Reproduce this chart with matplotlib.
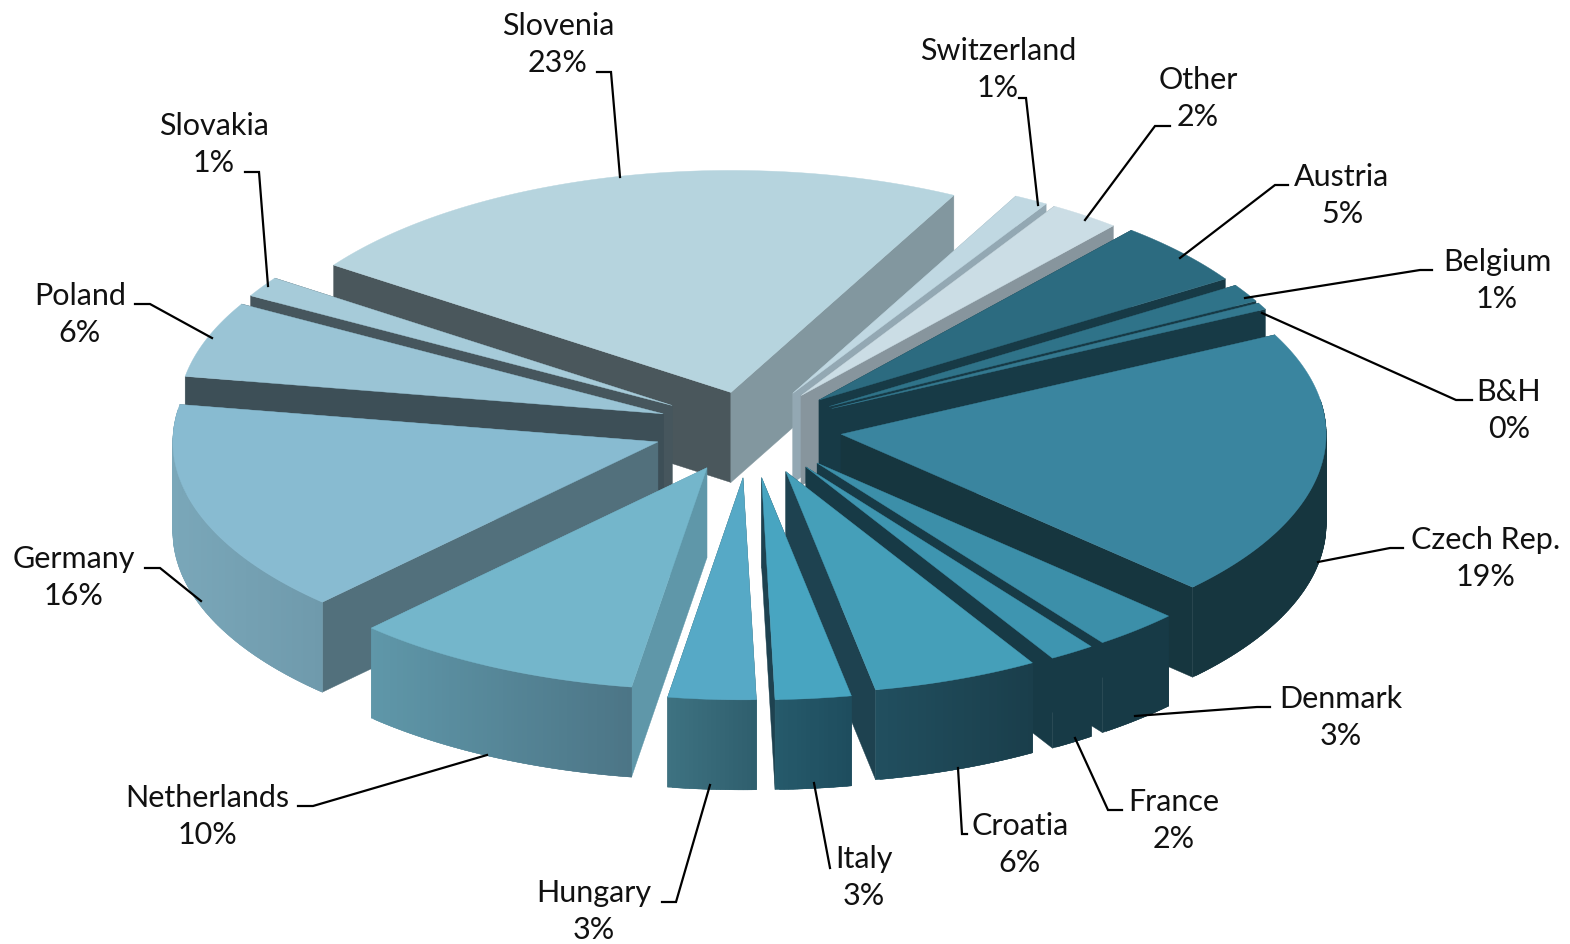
"""Exploded 3D pie of share by country, drawn as projected polygons."""

import matplotlib.pyplot as plt
import numpy as np
from matplotlib.colors import to_rgb
from matplotlib.patches import Polygon

W, H = 1570, 944

countries = ["Slovenia", "Switzerland", "Other", "Austria", "Belgium", "B&H",
             "Czech Rep.", "Denmark", "France", "Croatia", "Italy", "Hungary",
             "Netherlands", "Germany", "Poland", "Slovakia"]
shares = [22.86, 1.14, 2.39, 4.67, 1.31, 0.49, 19.47, 2.89, 1.52, 5.52, 2.52, 2.92,
          9.67, 15.52, 5.53, 1.49]

# ── Styling per slice ─────────────────────────────────────────────────────────
top_colors = ["#b6d4de", "#c0d8e2", "#cbdde5", "#2c6b80", "#2f7389", "#33788f",
              "#3a859f", "#3c8fa9", "#3e95b0", "#459fb9", "#48a5c1", "#56a9c6",
              "#74b6cb", "#88bbd1", "#9ac4d5", "#a6cbd9"]
rim_left = ["#7d949c", "#93a8b3", "#87959d", "#173a46", "#173a46", "#173a46",
            "#16363f", "#173a46", "#173a46", "#214f5f", "#265a6b", "#3e7282",
            "#5f97a9", "#7aa7b9", "#7aa7b9", "#7aa7b9"]
rim_right = ["#7d949c", "#93a8b3", "#87959d", "#173a46", "#173a46", "#173a46",
             "#16363f", "#173a46", "#173a46", "#1a3e4b", "#1e4d5e", "#2f5f6d",
             "#4c7586", "#6f9aac", "#7aa7b9", "#7aa7b9"]
wall_start = ["#4a575c", "#93a8b3", "#87959d", "#173a46", "#173a46", "#173a46",
              "#16363f", "#173a46", "#173a46", "#1e4250", "#1e4250", "#2f5f6d",
              "#5f97a9", "#52707c", "#3d4f57", "#46565d"]
wall_end = ["#82979f", "#93a8b3", "#87959d", "#173a46", "#173a46", "#173a46",
            "#16363f", "#173a46", "#173a46", "#1e4250", "#1e4250", "#2f5f6d",
            "#5f97a9", "#52707c", "#3d4f57", "#46565d"]
explode = [0.165, 0.18, 0.18, 0.19, 0.19, 0.19, 0.19, 0.21, 0.21, 0.21, 0.225,
           0.225, 0.2, 0.2, 0.19, 0.19]

# ── Layout in pixels ──────────────────────────────────────────────────────────
CX, CY = 750, 428
RX, RY = 485, 222
DEPTH = 90
START_DEG = -55.0

label_pos = [(558, 26), (998, 51), (1198, 80), (1342, 177), (1497, 262),
             (1509, 392), (1486, 540), (1341, 699), (1174, 802), (1020, 826),
             (864, 859), (594, 893), (207, 798), (74, 559), (80, 296), (214, 126)]
leaders = [
    [(597, 72), (611, 72), (620, 177)],
    [(1019, 98), (1026, 98), (1038, 205)],
    [(1170, 126), (1155, 126), (1085, 220)],
    [(1288, 185), (1275, 185), (1180, 258)],
    [(1432, 270), (1420, 270), (1245, 298)],
    [(1472, 400), (1456, 400), (1262, 313)],
    [(1403, 548), (1390, 548), (1318, 562)],
    [(1270, 707), (1257, 707), (1135, 716)],
    [(1122, 810), (1108, 810), (1075, 738)],
    [(967, 834), (962, 834), (958, 768)],
    [(830, 868), (814, 783)],
    [(662, 902), (676, 902), (710, 785)],
    [(298, 806), (313, 806), (487, 755)],
    [(145, 568), (160, 568), (201, 601)],
    [(135, 304), (150, 304), (212, 338)],
    [(245, 172), (259, 172), (268, 286)],
]


def project(theta, radius, offset):
    """Screen position of a disk point; theta runs clockwise from the back."""
    x = CX + RX * (radius * np.sin(theta) + offset[0])
    y = CY - RY * (radius * np.cos(theta) + offset[1])
    return x, y


fig = plt.figure(figsize=(W / 100, H / 100), dpi=100)
ax = fig.add_axes([0, 0, 1, 1])
ax.set_xlim(0, W)
ax.set_ylim(H, 0)
ax.axis("off")

fractions = np.array(shares) / np.sum(shares)
edges = np.deg2rad(START_DEG) + 2 * np.pi * np.concatenate([[0], np.cumsum(fractions)])


def fill(points, color, z):
    ax.add_patch(Polygon(points, closed=True, facecolor=color, edgecolor=color,
                         linewidth=0.3, zorder=z))


# Paint back slices first so the front ones overlap them
mids = (edges[:-1] + edges[1:]) / 2
order = np.argsort(-np.cos(mids))
for z, i in enumerate(order):
    t0, t1 = edges[i], edges[i + 1]
    mid = mids[i]
    off = (explode[i] * np.sin(mid), explode[i] * np.cos(mid))
    base = 10 + z * 10
    ts = np.linspace(t0, t1, max(int(np.degrees(t1 - t0) * 2), 4))
    apex = project(0, 0, off)

    # Radial cut faces
    for t, col in ((t0, wall_start[i]), (t1, wall_end[i])):
        rim = project(t, 1, off)
        fill([apex, rim, (rim[0], rim[1] + DEPTH), (apex[0], apex[1] + DEPTH)], col, base)

    # Outer wall, shaded left to right; each band runs under its neighbour to hide seams
    xs, ys = project(ts, 1, off)
    span = max(xs.max() - xs.min(), 1)
    c0, c1 = np.array(to_rgb(rim_left[i])), np.array(to_rgb(rim_right[i]))
    bands = [k for k in range(len(ts) - 1) if np.cos((ts[k] + ts[k + 1]) / 2) <= 0.15]
    bands.sort(key=lambda k: xs[k])
    for k in bands:
        f = ((xs[k] + xs[k + 1]) / 2 - xs.min()) / span
        col = tuple(c0 + (c1 - c0) * f)
        ahead = min(k + 2, len(ts) - 1) if xs[-1] > xs[0] else k
        behind = k if xs[-1] > xs[0] else max(k - 1, 0)
        seg_x = xs[behind:ahead + 1] if xs[-1] > xs[0] else xs[behind:k + 2]
        seg_y = ys[behind:ahead + 1] if xs[-1] > xs[0] else ys[behind:k + 2]
        fill(list(zip(seg_x, seg_y)) + list(zip(seg_x[::-1], seg_y[::-1] + DEPTH)),
             col, base + 1)

    # Top face
    fill([apex] + list(zip(xs, ys)), top_colors[i], base + 2)

# ── Labels and leader lines ───────────────────────────────────────────────────
for name, share, (lx, ly), line in zip(countries, shares, label_pos, leaders):
    ax.text(lx, ly, name, ha="center", va="center", fontsize=22, family="Lato",
            color="#111111", zorder=500)
    ax.text(lx, ly + 37, f"{share:.0f}%", ha="center", va="center", fontsize=22,
            family="Lato", color="#111111", zorder=500)
    px, py = zip(*line)
    ax.plot(px, py, color="black", linewidth=1.6, zorder=400, solid_joinstyle="miter")

fig.savefig("out.png", dpi=100, facecolor="white")
